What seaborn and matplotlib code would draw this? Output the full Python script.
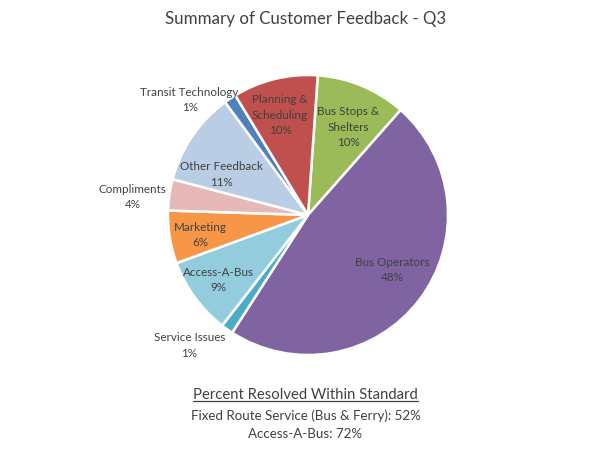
import numpy as np
import matplotlib
matplotlib.use("Agg")
import matplotlib.pyplot as plt
import seaborn as sns
from matplotlib.lines import Line2D

# ------------------------------------------------------
# Data
# ------------------------------------------------------
categories = ["Bus Stops &\nShelters", "Bus Operators", "Service Issues", "Access-A-Bus",
              "Marketing", "Compliments", "Other Feedback", "Transit Technology",
              "Planning &\nScheduling"]
shares = [10.4, 47.6, 1.4, 8.9, 6.1, 3.6, 10.8, 1.4, 9.8]
colors = ["#9BBB59", "#8064A2", "#4BACC6", "#93CDDD", "#F79646",
          "#E6B9B8", "#B9CDE5", "#4F81BD", "#C0504D"]
resolved_lines = ["Fixed Route Service (Bus & Ferry): 52%", "Access-A-Bus: 72%"]

# label placement: (radius, angle nudge in degrees, counter-clockwise)
label_pos = [(0.69, -2), (0.72, 4), (1.26, -7), (0.79, 0), (0.78, 1.5),
             (1.26, 2.5), (0.68, 9), (1.18, 12), (0.74, 2)]

sns.set_theme(style="white")
plt.rcParams["font.family"] = ["Lato", "DejaVu Sans"]
txt = "#404040"

fig = plt.figure(figsize=(6.11, 4.59), dpi=100)
W, H = 611, 459
cx, cy, r = 308, 215, 140
ax = fig.add_axes([(cx - r) / W, (H - cy - r) / H, 2 * r / W, 2 * r / H])

wedges, _ = ax.pie(shares, colors=colors, startangle=86, counterclock=False,
                   wedgeprops=dict(edgecolor="white", linewidth=1.8))
ax.set_xlim(-1, 1)
ax.set_ylim(-1, 1)
ax.axis("off")

total = sum(shares)
for w, name, val, (rad, nudge) in zip(wedges, categories, shares, label_pos):
    mid = np.deg2rad((w.theta1 + w.theta2) / 2 + nudge)
    x, y = rad * np.cos(mid), rad * np.sin(mid)
    ax.text(x, y, f"{name}\n{round(val / total * 100):.0f}%", ha="center", va="center",
            fontsize=8.4, color=txt, linespacing=1.5)

fig.text(0.5, 1 - 19 / H, "Summary of Customer Feedback - Q3", ha="center", va="center",
         fontsize=12.2, color=txt)

head = fig.text(0.5, 1 - 395 / H, "Percent Resolved Within Standard", ha="center",
                va="center", fontsize=10.7, color=txt)
for i, line in enumerate(resolved_lines):
    fig.text(0.5, 1 - (416 + i * 18) / H, line, ha="center", va="center",
             fontsize=9.6, color=txt)

# underline for the heading
fig.canvas.draw()
bb = head.get_window_extent().transformed(fig.transFigure.inverted())
fig.add_artist(Line2D([bb.x0, bb.x1], [bb.y0 + 0.002, bb.y0 + 0.002],
                      transform=fig.transFigure, color=txt, linewidth=0.9))

fig.savefig("out.png", dpi=100)
